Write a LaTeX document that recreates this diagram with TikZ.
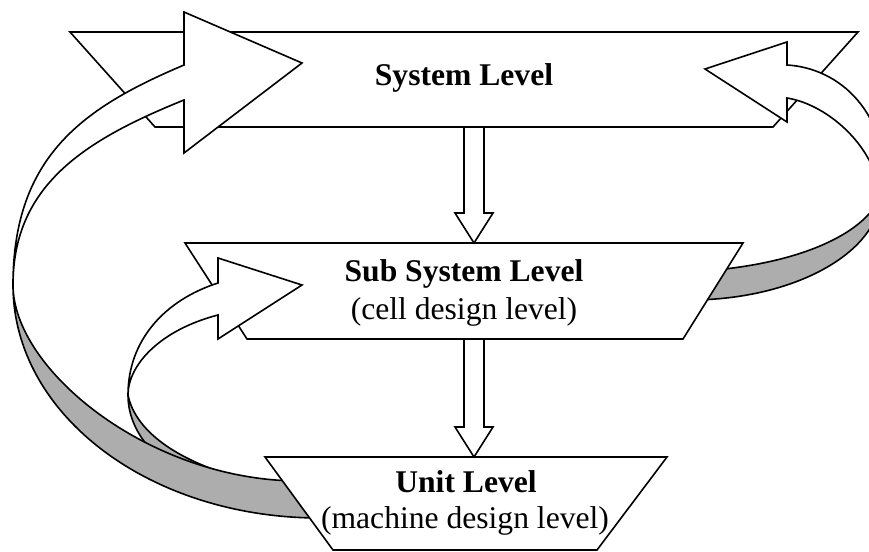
\documentclass[tikz,border=0pt]{standalone}
\usepackage{xcolor}
\usepackage{fontspec}
\setmainfont{Liberation Serif}
\usepackage{tikz}
\usetikzlibrary{calc}
\tikzstyle{level} = [draw=black, fill=white, line width=0.8pt]
\tikzstyle{front} = [draw=black, fill=white, line width=0.8pt]
\tikzstyle{back} = [draw=black, fill=black!32, line width=0.8pt]
\tikzstyle{hollow} = [draw=black, fill=white, line width=0.8pt]
\tikzstyle{lvltitle} = [font=\fontsize{15.8}{19}\selectfont\bfseries, inner sep=0pt, anchor=base]
\tikzstyle{lvlnote} = [font=\fontsize{15.8}{19}\selectfont, inner sep=0pt, anchor=base]
\newcommand{\levelarrow}[2]{\draw[hollow] ($(#1)+(-10,0)$) -- ($(#1)+(10,0)$) -- ($(#2)+(10,-30)$) -- ($(#2)+(19,-30)$) -- (#2) -- ($(#2)+(-19,-30)$) -- ($(#2)+(-10,-30)$) -- cycle;}

\begin{document}
\begin{tikzpicture}[x=0.5pt, y=-0.5pt]
	\useasboundingbox (0,0) rectangle (869,552);
	\clip (0,0) rectangle (869,552);

	% system level
	\draw[level] (70,32) -- (858,32) -- (773,127) -- (155,127) -- cycle;
	\coordinate (sysbot) at (474,127);

	% loop back up on the right
	\draw[back] (880,198) .. controls (878,250) and (800,298) .. (695,300) -- (715,270) .. controls (800,262) and (862,235) .. (880,198) -- cycle;
	\draw[front] (787,65) .. controls (838,68) and (890,110) .. (886,198) -- (880,198) .. controls (878,150) and (830,105) .. (787,98) -- (787,122) -- (705,69) -- (787,42) -- cycle;

	% sub system level
	\draw[level] (185,243) -- (743,243) -- (683,339) -- (247,339) -- cycle;
	\coordinate (subtop) at (474,243);
	\coordinate (subbot) at (474,339);

	% loop from unit to sub system
	\draw[back] (128,395) .. controls (128,440) and (170,480) .. (240,495) -- (310,498) -- (300,486) -- (240,478) .. controls (175,460) and (135,430) .. (128,395) -- cycle;
	\draw[front] (128,395) .. controls (128,340) and (165,300) .. (218,283) -- (218,258) -- (302,285) -- (218,339) -- (218,315) .. controls (160,330) and (128,365) .. (128,395) -- cycle;

	% loop from unit to system
	\draw[back] (13,285) .. controls (13,415) and (150,518) .. (320,518) -- (300,481) .. controls (150,481) and (13,370) .. (13,285) -- cycle;
	\draw[front] (13,285) .. controls (13,155) and (85,107) .. (184,65) -- (184,12) -- (302,63) -- (184,153) -- (184,100) .. controls (85,140) and (13,185) .. (13,285) -- cycle;

	% unit level
	\draw[level] (265,457) -- (667,457) -- (597,550) -- (333,550) -- cycle;
	\coordinate (unittop) at (474,457);

	\levelarrow{sysbot}{subtop}
	\levelarrow{subbot}{unittop}

	\node[lvltitle] (system) at (464,85) {System Level};
	\node[lvltitle] (subsys) at (464,281) {Sub System Level};
	\node[lvlnote] (cell) at (464,319) {(cell design level)};
	\node[lvltitle] (unit) at (466,492) {Unit Level};
	\node[lvlnote] (machine) at (465,528) {(machine design level)};
\end{tikzpicture}
\end{document}
